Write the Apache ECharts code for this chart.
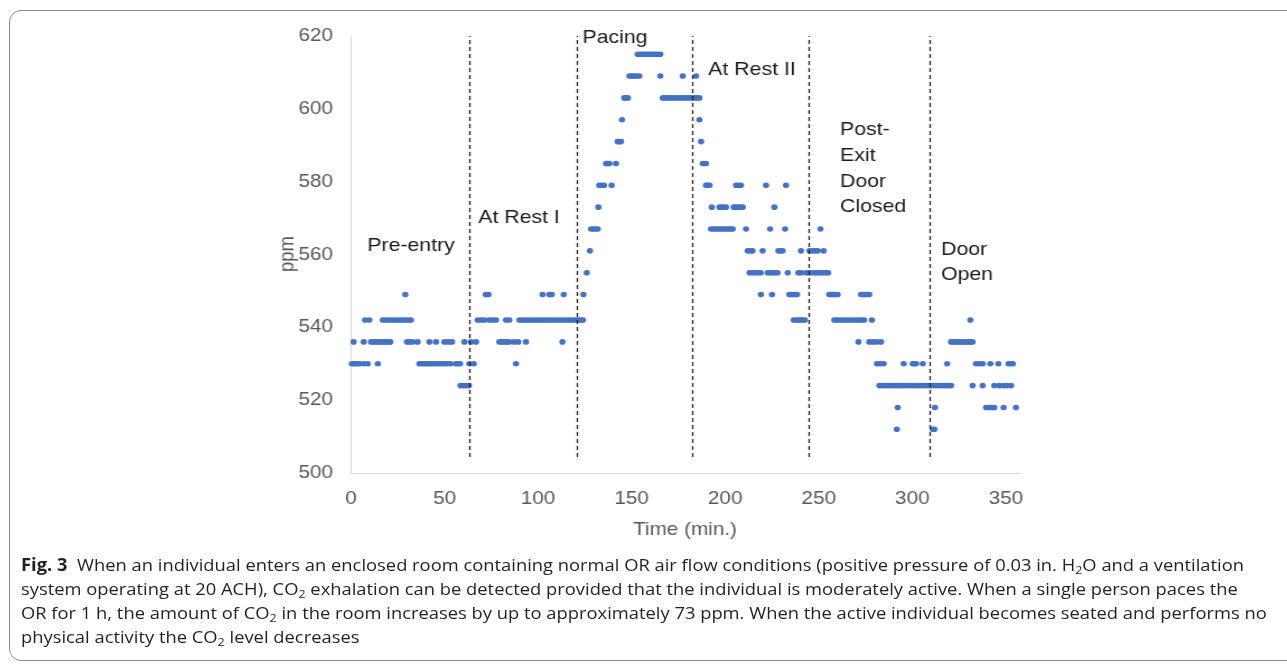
<!DOCTYPE html>
<html>
<head>
<meta charset="utf-8">
<script src="https://cdn.jsdelivr.net/npm/echarts@6/dist/echarts.min.js"></script>
<style>
html,body{margin:0;padding:0;background:#fff;width:1287px;height:664px;overflow:hidden;position:relative;}
#frame{position:absolute;left:9px;top:10px;width:1320px;height:651px;border:1.5px solid #8c8c8c;border-radius:12px;box-sizing:border-box;}
#wrap{position:absolute;left:0;top:0;width:1149px;height:664px;transform:scaleX(1.12);transform-origin:0 0;}
#chart{width:1149px;height:664px;}
#caption{position:absolute;left:21px;top:553px;font-family:"Open Sans","Noto Sans",sans-serif;font-size:17px;line-height:24px;color:#231f20;}
.ln{white-space:nowrap;transform-origin:0 50%;display:block;width:max-content;}
sub{font-size:0.68em;vertical-align:-0.3em;line-height:0;}
</style>
</head>
<body>
<div id="frame"></div>
<div id="wrap"><div id="chart"></div></div>
<div id="caption">
<span class="ln"><b>Fig. 3</b>&nbsp; When an individual enters an enclosed room containing normal OR air flow conditions (positive pressure of 0.03 in. H<sub>2</sub>O and a ventilation</span>
<span class="ln">system operating at 20 ACH), CO<sub>2</sub> exhalation can be detected provided that the individual is moderately active. When a single person paces the</span>
<span class="ln">OR for 1 h, the amount of CO<sub>2</sub> in the room increases by up to approximately 73 ppm. When the active individual becomes seated and performs no</span>
<span class="ln">physical activity the CO<sub>2</sub> level decreases</span>
</div>
<script>
// CO2 levels (ppm) recorded by the sensor
const levels = [512, 518, 524, 530, 536, 542, 549, 555, 561, 567, 573, 579, 585, 591, 597, 603, 609, 615];
// times (min.) at which each level was recorded
const t512 = [291.7, 310.9, 311.8];
const t518 = [292.2, 312.1, 339.4, 340.9, 342.4, 343.8, 348.8, 355.4];
const t524 = [58.5, 60, 61.5, 63, 282.4, 284, 285.6, 287.2, 288.8, 290.4, 292, 293.6, 295.2, 296.8, 298.4, 300, 301.6, 303.2, 304.8, 306.4, 308, 309.6, 311.2, 312.8, 314.4, 316, 317.6, 319.2, 320.7, 332.2, 337.6, 343.8, 346.5, 348.8, 350.6, 352.8];
const t530 = [0.4, 1.3, 2.1, 3.3, 4.5, 6.8, 8.9, 14.3, 36.5, 37.8, 39.2, 40.3, 41.3, 42.5, 43.6, 45, 46.3, 47.5, 49, 50.3, 51.6, 53.2, 56.1, 57.2, 58.3, 63.2, 65.6, 88.2, 281.1, 282.9, 284.7, 295.4, 300.2, 301.1, 302, 305.6, 318.6, 334, 335.8, 337.6, 341.7, 346, 351.4, 352.5, 353.7];
const t536 = [1.4, 6.8, 10.7, 12, 13.4, 14.7, 16, 17.3, 18.7, 20, 21, 29.9, 31.4, 33, 35.6, 41.9, 45.4, 49.9, 52, 54, 60.6, 64.1, 66.8, 79.3, 80.6, 81.9, 83.2, 84.6, 87.3, 89.4, 93.5, 113, 271.2, 277, 279, 281, 283.3, 320.7, 322, 323.3, 324.6, 325.9, 327.2, 328.5, 329.8, 331, 332.2];
const t542 = [7.5, 9.8, 17, 18.5, 20, 21.5, 23, 24.5, 26, 27.5, 29, 30.5, 32, 67.7, 69.5, 71.3, 73.9, 75.7, 77.5, 82.8, 84.6, 90, 91.5, 93, 94.5, 96, 97.5, 99, 100.5, 102, 103.5, 105, 106.5, 108, 109.5, 111, 112.5, 114, 115.5, 117, 118.5, 120, 121.5, 123, 124, 236.6, 237.8, 239, 240.2, 241.4, 242.6, 258.3, 259.8, 261.3, 262.8, 264.3, 265.8, 267.3, 268.8, 270.3, 271.8, 273.3, 274.3, 278.4, 331];
const t549 = [29, 72, 73.5, 102.4, 106, 107.3, 113.7, 124.2, 219.1, 225, 234.3, 235.6, 237, 238.4, 255.6, 257, 258.5, 260.1, 272.6, 274, 275.5, 277];
const t555 = [126, 213, 214.5, 216, 217.5, 219, 222.7, 224, 225.3, 226.6, 228, 233.4, 239.1, 240.5, 243.2, 244.5, 246, 247.5, 249, 250.5, 252, 253.5, 255];
const t561 = [127.7, 212, 213.3, 214.6, 220, 228.4, 229.5, 230.7, 240.5, 245, 246.5, 248, 249.5, 252.6];
const t567 = [128.3, 129.5, 130.7, 131.9, 192.4, 193.6, 194.8, 196, 197.2, 198.4, 199.6, 200.8, 202, 203.2, 204, 211.1, 224, 232, 250.9];
const t573 = [132.2, 192.8, 196.9, 198, 199.2, 200.4, 204.5, 205.7, 207, 208.1, 209.3, 226.3];
const t579 = [132.7, 134, 135.2, 139.3, 189.7, 190.6, 191.6, 205.8, 207.1, 208.4, 221.8, 232.5];
const t585 = [136.3, 137.2, 138.1, 141.6, 188, 189.7];
const t591 = [142.5, 143.4, 144.3, 187.1];
const t597 = [144.8, 186.2];
const t603 = [146, 147, 148, 166.6, 168, 169.4, 170.8, 172.2, 173.6, 175, 176.4, 177.8, 179.2, 180.6, 182, 183.4, 184.8, 186.2];
const t609 = [148.8, 150, 151.3, 152.6, 154.1, 165.3, 177.3, 184.4];
const t615 = [153.2, 154.4, 155.6, 156.8, 158, 159.2, 160.4, 161.6, 162.8, 164, 165.3];
const timesByLevel = [t512, t518, t524, t530, t536, t542, t549, t555, t561, t567, t573, t579, t585, t591, t597, t603, t609, t615];
// phase boundaries (min.) and phase names
const phaseBounds = [63.4, 120.9, 182.6, 245, 309.1];
const phaseNames = ['Pre-entry', 'At Rest I', 'Pacing', 'At Rest II', 'Post-\nExit\nDoor\nClosed', 'Door\nOpen'];
const xTickStep = 50;
const yTickStep = 20;

const points = [];
levels.forEach((v, i) => timesByLevel[i].forEach(t => points.push([t, v])));

const SX = 1.12; // horizontal stretch of the figure
const ux = x => x / SX;
const tickFont = {fontFamily: 'Liberation Sans, Arial, sans-serif', fontSize: 18.5, color: '#595959'};
const labFont = 'Liberation Sans, Arial, sans-serif';

const phaseLabelPos = [
  {x: ux(411), y: 246, align: 'center', lh: 25},
  {x: ux(519), y: 218, align: 'center', lh: 25},
  {x: ux(615), y: 38, align: 'center', lh: 25},
  {x: ux(752), y: 70, align: 'center', lh: 25},
  {x: ux(840), y: 168.5, align: 'left', lh: 25.7},
  {x: ux(941), y: 262.5, align: 'left', lh: 25}
];

const chart = echarts.init(document.getElementById('chart'), null, {renderer: 'canvas'});
chart.setOption({
  animation: false,
  grid: {left: ux(351), top: 36, right: 1149 - ux(351) - 358 * 1.871 / SX, bottom: 191},
  xAxis: {
    type: 'value', min: 0, max: 358, interval: xTickStep,
    axisLine: {show: true, lineStyle: {color: '#d9d9d9', width: 1}},
    axisTick: {show: false}, splitLine: {show: false},
    axisLabel: Object.assign({margin: 16, showMaxLabel: false}, tickFont)
  },
  yAxis: {
    type: 'value', min: 500, max: 620, interval: yTickStep,
    axisLine: {show: true, lineStyle: {color: '#d9d9d9', width: 1}},
    axisTick: {show: false}, splitLine: {show: false},
    axisLabel: Object.assign({margin: 16}, tickFont)
  },
  series: [{
    type: 'scatter',
    data: points,
    symbolSize: 5.6,
    itemStyle: {color: '#4472C4', opacity: 1},
    clip: false,
    markLine: {
      silent: true, symbol: ['none', 'none'], label: {show: false},
      lineStyle: {color: '#222', type: [4, 3], width: 1.3},
      data: phaseBounds.map(t => [{coord: [t, 504.4]}, {coord: [t, 620]}])
    }
  }],
  graphic: [
    {type: 'text', x: ux(288), y: 254, rotation: Math.PI / 2,
     style: {text: 'ppm', font: '18.5px ' + labFont, fill: '#595959', align: 'center', verticalAlign: 'middle'}},
    {type: 'text', x: ux(685), y: 530,
     style: {text: 'Time (min.)', font: '18.5px ' + labFont, fill: '#595959', align: 'center', verticalAlign: 'middle'}}
  ].concat(phaseNames.map((n, i) => ({
    type: 'text', x: phaseLabelPos[i].x, y: phaseLabelPos[i].y,
    style: {text: n, font: '19px ' + labFont, fill: '#1a1a1a', align: phaseLabelPos[i].align,
            verticalAlign: 'middle', lineHeight: phaseLabelPos[i].lh}
  })))
});

function fitCaption() {
  const lines = document.querySelectorAll('#caption .ln');
  const targets = [1250 - 21, 1240 - 21, 1258 - 21];
  let s = 0;
  for (let i = 0; i < 3; i++) s += targets[i] / lines[i].offsetWidth;
  s /= 3;
  lines.forEach(l => { l.style.transform = 'scaleX(' + s + ')'; });
}
fitCaption();
if (document.fonts && document.fonts.ready) document.fonts.ready.then(fitCaption);
</script>
</body>
</html>
